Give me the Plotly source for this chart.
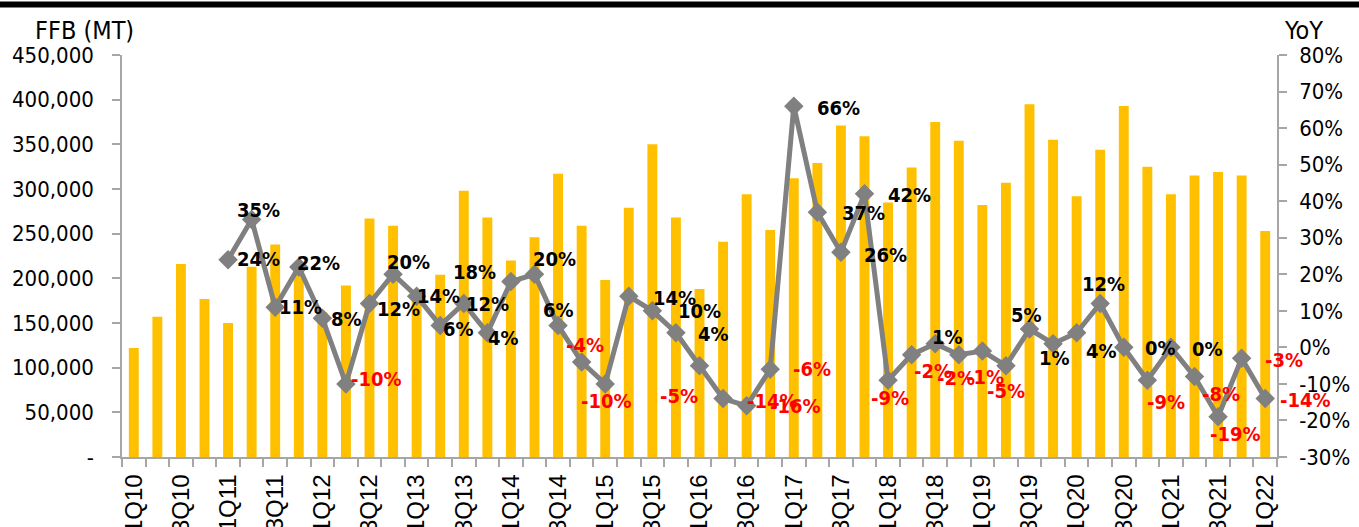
import plotly.graph_objects as go

quarters = []
for yr in range(10, 23):
    for q in range(1, 5):
        quarters.append(f"{q}Q{yr}")
quarters = quarters[:49]  # 1Q10 .. 1Q22

ffb_mt = [122000, 157000, 216000, 177000,
          150000, 213000, 238000, 210000,
          162000, 192000, 267000, 259000,
          185000, 204000, 298000, 268000,
          220000, 246000, 317000, 259000,
          198000, 279000, 350000, 268000,
          188000, 241000, 294000, 254000,
          312000, 329000, 371000, 359000,
          285000, 324000, 375000, 354000,
          282000, 307000, 395000, 355000,
          292000, 344000, 393000, 325000,
          294000, 315000, 319000, 315000,
          253000]

yoy_quarters = quarters[4:]
yoy_pct = [24, 35, 11, 22,
           8, -10, 12, 20,
           14, 6, 12, 4,
           18, 20, 6, -4,
           -10, 14, 10, 4,
           -5, -14, -16, -6,
           66, 37, 26, 42,
           -9, -2, 1, -2,
           -1, -5, 5, 1,
           4, 12, 0, -9,
           0, -8, -19, -3,
           -14]

left_ticks = [0, 50000, 100000, 150000, 200000, 250000, 300000, 350000, 400000, 450000]
left_text = ["-" if v == 0 else f"{v:,}" for v in left_ticks]
right_ticks = list(range(-30, 81, 10))
right_text = [f"{v}%" for v in right_ticks]
x_text = [q if i % 2 == 0 else "" for i, q in enumerate(quarters)]

# label offsets in pixels (dx right, dy down) relative to each marker
label_offsets = [(30, -1), (7, -9), (25, 0), (20, -4),
                 (24, 1), (31, -5), (29, 5), (15, -12),
                 (22, 0), (18, 4), (24, 0), (16, 5),
                 (-36, -10), (20, -15), (0, -15), (3, -17),
                 (1, 17), (46, 2), (47, 0), (38, 1),
                 (-21, 30), (49, 2), (49, 0), (42, 0),
                 (45, 2), (46, 1), (45, 3), (45, 1),
                 (2, 18), (21, 16), (12, -7), (-3, 23),
                 (3, 26), (0, 25), (-3, -14), (1, 14),
                 (25, 18), (3, -20), (37, 1), (19, 22),
                 (37, 2), (26, 17), (17, 17), (42, 2),
                 (40, 1)]

TICK_FONT = "DejaVu Sans Condensed, DejaVu Sans, sans-serif"
AX_COL = "#a6a6a6"

W, H = 1359, 527
L, R, T, B = 122, 82, 55, 70
pw, ph = W - L - R, H - T - B


def px(x):
    return (x - L) / pw


def py(y):
    return (H - B - y) / ph


fig = go.Figure()
fig.add_trace(go.Bar(x=quarters, y=ffb_mt, marker=dict(color="#FFC000", line=dict(width=0)),
                     width=0.42, yaxis="y", hoverinfo="skip"))
fig.add_trace(go.Scatter(x=yoy_quarters, y=yoy_pct, yaxis="y2", mode="lines+markers",
                         line=dict(color="#808080", width=5),
                         marker=dict(symbol="diamond", size=15, color="#808080"),
                         hoverinfo="skip"))

annotations = []
for q, v, (dx, dy) in zip(yoy_quarters, yoy_pct, label_offsets):
    annotations.append(dict(x=q, y=v, xref="x", yref="y2", text=f"<b>{v}%</b>", showarrow=False,
                            xshift=dx, yshift=-dy, xanchor="center", yanchor="middle",
                            font=dict(family=TICK_FONT, size=20,
                                      color="#FF0000" if v < 0 else "#000000")))
annotations.append(dict(x=px(84), y=py(30), xref="paper", yref="paper", text="FFB (MT)",
                        showarrow=False, xanchor="center", yanchor="middle",
                        font=dict(family=TICK_FONT, size=25, color="#000000")))
annotations.append(dict(x=px(1304), y=py(30), xref="paper", yref="paper", text="YoY",
                        showarrow=False, xanchor="center", yanchor="middle",
                        font=dict(family=TICK_FONT, size=25, color="#000000")))

fig.update_layout(
    width=W, height=H, template="none",
    margin=dict(l=L, r=R, t=T, b=B, autoexpand=False),
    paper_bgcolor="white", plot_bgcolor="white",
    showlegend=False,
    annotations=annotations,
    xaxis=dict(type="category", tickmode="array", tickvals=quarters, ticktext=x_text,
               tickson="boundaries", ticks="outside", ticklen=8, tickwidth=1.5, tickcolor=AX_COL,
               tickangle=-90, showline=True, linecolor=AX_COL, linewidth=1.5,
               showgrid=False, zeroline=False, automargin=False, ticklabelstandoff=6,
               range=[-0.5, 48.5],
               tickfont=dict(family="Liberation Sans, Arial, sans-serif", size=24, color="#000000")),
    yaxis=dict(range=[0, 450000], tickmode="array", tickvals=left_ticks, ticktext=left_text,
               ticks="outside", ticklen=8, tickwidth=1.5, tickcolor=AX_COL,
               showline=True, linecolor=AX_COL, linewidth=1.5, showgrid=False, zeroline=False,
               automargin=False, ticklabelstandoff=14,
               tickfont=dict(family=TICK_FONT, size=22, color="#000000")),
    yaxis2=dict(range=[-30, 80], overlaying="y", side="right", tickmode="array",
                tickvals=right_ticks, ticktext=right_text,
                ticks="outside", ticklen=8, tickwidth=1.5, tickcolor=AX_COL,
                showline=True, linecolor=AX_COL, linewidth=1.5, showgrid=False, zeroline=False,
                automargin=False, ticklabelstandoff=8,
                tickfont=dict(family=TICK_FONT, size=22, color="#000000")),
    shapes=[dict(type="line", xref="paper", yref="paper", x0=px(0), x1=px(W), y0=py(4.5), y1=py(4.5),
                 line=dict(color="black", width=6))],
)

fig.write_html("out.html", config={"displayModeBar": False},
               post_script="document.body.style.margin='0';document.body.style.padding='0';")
